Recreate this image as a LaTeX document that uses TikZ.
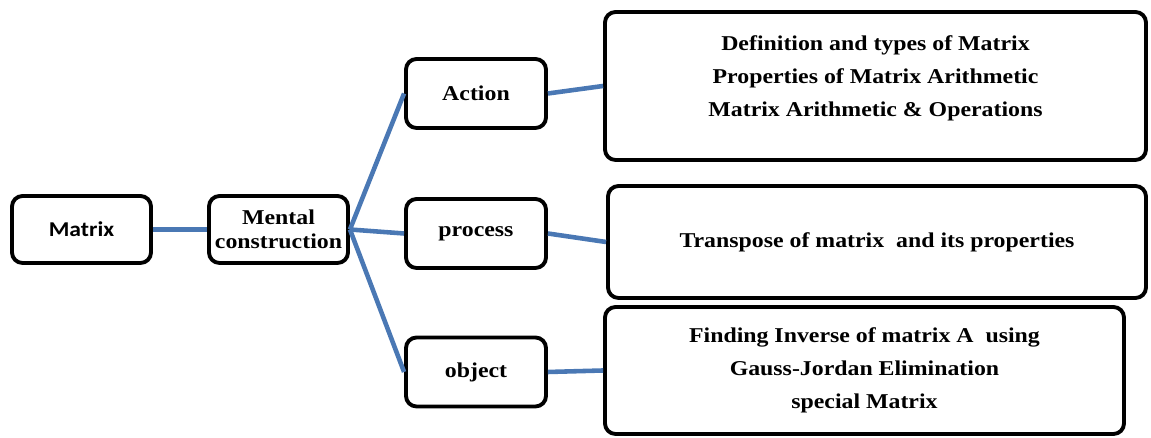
\documentclass[tikz,border=0pt]{standalone}
\usepackage{fontspec}
\setmainfont[FakeStretch=1.13]{Liberation Serif}
\newfontfamily\calib[FakeStretch=1.12]{Carlito}
\usepackage{tikz}
\definecolor{lnk}{HTML}{4A78B4}
\definecolor{pag}{HTML}{000000}
\usetikzlibrary{positioning}
\tikzset{
	box/.style={draw=pag, line width=2.2pt, rounded corners=6pt, align=center,
		font=\bfseries\fontsize{12}{13.6}\selectfont, inner sep=2pt},
	bigbox/.style={box, font=\bfseries\fontsize{12}{18.8}\selectfont},
	link/.style={lnk, line width=2.6pt}
}
\begin{document}
\begin{tikzpicture}
			\useasboundingbox (0,0) rectangle (23.02,8.76);

			% left part
			\node[box, minimum width=2.78cm, minimum height=1.34cm] (matrix) at (1.63,4.17) {\calib\bfseries Matrix};
			\node[box, minimum width=2.78cm, minimum height=1.34cm] (mental) at (5.57,4.17) {Mental\\construction};

			% the three stages
			\node[box, minimum width=2.8cm, minimum height=1.38cm] (action) at (9.52,6.89) {Action};
			\node[box, minimum width=2.8cm, minimum height=1.38cm] (process) at (9.52,4.09) {process};
			\node[box, minimum width=2.8cm, minimum height=1.38cm] (object) at (9.52,1.32) {object};

			% contents
			\node[bigbox, minimum width=10.82cm, minimum height=2.96cm] (defs) at (17.51,7.04)
				{Definition and types of Matrix\\Properties of Matrix Arithmetic\\Matrix Arithmetic \& Operations\\[-7.4pt]\mbox{}};
			\node[bigbox, minimum width=10.76cm, minimum height=2.24cm] (transp) at (17.54,3.92)
				{Transpose of matrix \ and its properties};
			\node[bigbox, minimum width=10.38cm, minimum height=2.54cm] (inverse) at (17.29,1.35)
				{Finding Inverse of matrix A \ using\\Gauss-Jordan Elimination\\special Matrix};

			\draw[link] (matrix) -- (mental);
			\draw[link] (mental.east) -- (action.west);
			\draw[link] (mental.east) -- (process.west);
			\draw[link] (mental.east) -- (object.west);
			\draw[link] (action.east) -- (defs.west);
			\draw[link] (process.east) -- (transp.west);
			\draw[link] (object.east) -- (inverse.west);
		\end{tikzpicture}
\end{document}
